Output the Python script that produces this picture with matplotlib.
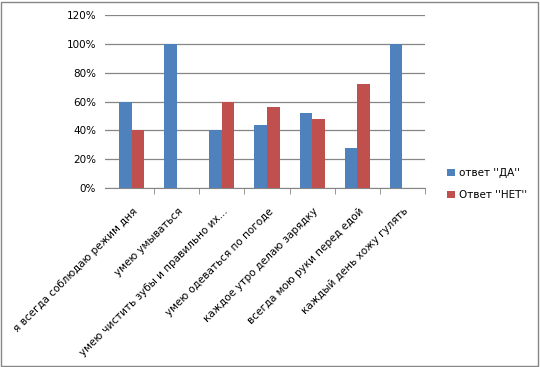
import matplotlib
matplotlib.use("Agg")
import matplotlib.pyplot as plt
import numpy as np
from matplotlib.patches import Rectangle
import matplotlib.transforms as mtrans

categories = ["я всегда соблюдаю режим дня", "умею умываться",
              "умею чистить зубы и правильно их...", "умею одеваться по погоде",
              "каждое утро делаю зарядку", "всегда мою руки перед едой",
              "каждый день хожу гулять"]
da = [60, 100, 40, 44, 52, 28, 100]
net = [40, 0, 60, 56, 48, 72, 0]
series_names = ["ответ ''ДА''", "Ответ ''НЕТ''"]
yticks = [0, 20, 40, 60, 80, 100, 120]

plt.rcParams['font.family'] = ['DejaVu Sans']
fig = plt.figure(figsize=(5.4, 3.67), dpi=100)
ax = fig.add_axes([105/540, 1-188/367, 320/540, (188-15)/367])

n = len(categories)
x = np.arange(n)
w = 0.28
b1 = ax.bar(x - w/2, da, w, color='#4F81BD', label=series_names[0], zorder=3)
b2 = ax.bar(x + w/2, net, w, color='#C0504D', label=series_names[1], zorder=3)

ax.set_xlim(-0.5 - 4/45.2, n - 0.5)
ax.set_ylim(0, 120)
ax.set_yticks(yticks)
ax.set_yticklabels([f"{v}%" for v in yticks], fontsize=7.5, color='#000000')
ax.yaxis.grid(True, color='#868686', linewidth=0.9, zorder=0)
ax.tick_params(axis='y', length=0, pad=6.5)
for s in ['left', 'right', 'top']:
    ax.spines[s].set_visible(False)
ax.spines['bottom'].set_color('#868686')

ax.set_xticks(x)
ax.set_xticklabels(categories, rotation=45, ha='right', va='top',
                   rotation_mode='anchor', fontsize=7.5)
ax.tick_params(axis='x', which='major', length=0, pad=13)
ax.set_xticks(np.arange(0.5, n), minor=True)
ax.tick_params(axis='x', which='minor', length=4, color='#868686', direction='out')
offset = mtrans.ScaledTranslation(1/100, 0, fig.dpi_scale_trans)
for lab in ax.get_xticklabels():
    lab.set_transform(lab.get_transform() + offset)

fig.legend(handles=[b1, b2], labels=series_names, loc='upper left',
           bbox_to_anchor=(438/540, 1-159/367), frameon=False, fontsize=7.5,
           handlelength=0.7, handleheight=0.7, handletextpad=0.4, labelspacing=1.1)

fig.patches.append(Rectangle((1/540, 1/367), 537/540, 364/367, transform=fig.transFigure,
                             fill=False, edgecolor='#868686', linewidth=1))

fig.savefig("out.png", dpi=100)
